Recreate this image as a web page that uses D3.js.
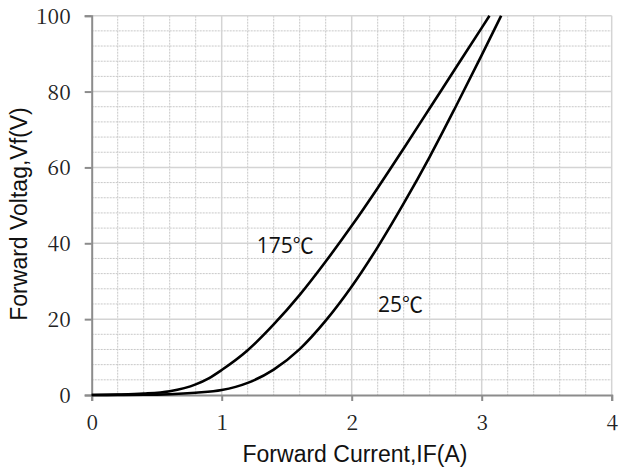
<!DOCTYPE html>
<html><head><meta charset="utf-8">
<script src="https://cdn.jsdelivr.net/npm/d3@7"></script>
<style>body{margin:0;background:#fff} .tk text{font-family:"Noto Serif CJK SC","Noto Serif CJK JP","Noto Serif","FreeSerif","DejaVu Serif","Liberation Serif",serif !important;}</style>
</head><body>
<svg id="c" width="619" height="472"></svg>
<script>
const xTicks = [0, 1, 2, 3, 4];
const yTicks = [0, 20, 40, 60, 80, 100];
const hotX = [0, 0.2, 0.4, 0.6, 0.8, 0.9, 1.0, 1.2, 1.4, 1.6, 1.8, 2.0, 2.2, 2.4, 2.6, 2.8, 3.0, 3.06];
const hotY = [0, 0.1, 0.35, 1.0, 2.8, 4.4, 6.6, 11.8, 18.6, 26.4, 35.2, 44.6, 54.6, 65.0, 75.6, 86.2, 96.8, 100];
const roomX = [0, 0.4, 0.6, 0.8, 1.0, 1.2, 1.4, 1.6, 1.8, 2.0, 2.2, 2.4, 2.6, 2.8, 3.0, 3.15];
const roomY = [0, 0.05, 0.2, 0.6, 1.3, 3.2, 6.7, 12.1, 19.6, 28.6, 39.0, 50.5, 62.8, 76.0, 89.6, 100];
const seriesLabels = ["175℃", "25℃"];
const xTitle = "Forward Current,IF(A)";
const yTitle = "Forward Voltag,Vf(V)";

const svg = d3.select("#c");
const L = 91.7, R = 611.7, T = 15.7, B = 395;
const x = d3.scaleLinear().domain([0, 4]).range([L, R]);
const y = d3.scaleLinear().domain([0, 100]).range([B, T]);

const g = svg.append("g");
const minorX = d3.range(0, 4.0001, 0.2).filter(v => Math.abs(v - Math.round(v)) > 1e-6);
const minorY = d3.range(0, 100.001, 4).filter(v => v % 20 !== 0);
g.selectAll(".mx").data(minorX).join("line")
  .attr("x1", d => x(d)).attr("x2", d => x(d)).attr("y1", T).attr("y2", B)
  .attr("stroke", "#c8c8c8").attr("stroke-width", 1).attr("stroke-dasharray", "2,1");
g.selectAll(".my").data(minorY).join("line")
  .attr("y1", d => y(d)).attr("y2", d => y(d)).attr("x1", L).attr("x2", R)
  .attr("stroke", "#c8c8c8").attr("stroke-width", 1).attr("stroke-dasharray", "2,1");
g.selectAll(".Mx").data(xTicks.slice(1)).join("line")
  .attr("x1", d => x(d)).attr("x2", d => x(d)).attr("y1", T).attr("y2", B)
  .attr("stroke", "#d4d4d4").attr("stroke-width", 1.5);
g.selectAll(".My").data(yTicks.slice(1)).join("line")
  .attr("y1", d => y(d)).attr("y2", d => y(d)).attr("x1", L).attr("x2", R)
  .attr("stroke", "#d4d4d4").attr("stroke-width", 1.5);

const xa = svg.append("g").attr("class", "tk").attr("transform", `translate(0,${B})`)
  .call(d3.axisBottom(x).tickValues(xTicks).tickSize(6).tickPadding(14).tickFormat(d3.format("d")));
const ya = svg.append("g").attr("class", "tk").attr("transform", `translate(${L},0)`)
  .call(d3.axisLeft(y).tickValues(yTicks).tickSize(7).tickPadding(14).tickFormat(d3.format("d")));
[xa, ya].forEach(a => {
  a.attr("font-family", null).attr("font-size", 21);
  a.select(".domain").attr("stroke", "#8c8c8c").attr("stroke-width", 2);
  a.selectAll(".tick line").attr("stroke", "#8c8c8c").attr("stroke-width", 2);
  a.selectAll("text").attr("font-size", 21).attr("fill", "#222");
});
ya.selectAll("text").attr("dy", "0.36em");

const line = d3.line().x(d => x(d[0])).y(d => y(d[1])).curve(d3.curveMonotoneX);
const hot = hotX.map((v, i) => [v, hotY[i]]);
const room = roomX.map((v, i) => [v, roomY[i]]);
[hot, room].forEach(s => svg.append("path").datum(s).attr("d", line)
  .attr("fill", "none").attr("stroke", "#000").attr("stroke-width", 2.6));

const lf = "'Open Sans', 'Noto Sans CJK SC', sans-serif";
svg.append("text").attr("x", 256.7).attr("y", 252.7).text(seriesLabels[0])
  .style("font-family", lf).style("font-size", "21px").attr("fill", "#111");
svg.append("text").attr("x", 378).attr("y", 311.7).text(seriesLabels[1])
  .style("font-family", lf).style("font-size", "21px").attr("fill", "#111");

const tf = "'Liberation Sans', Arial, sans-serif";
svg.append("text").attr("x", 355).attr("y", 462).attr("text-anchor", "middle").text(xTitle)
  .style("font-family", tf).style("font-size", "23px").attr("fill", "#111");
svg.append("text").attr("transform", "translate(27,214) rotate(-90)").attr("text-anchor", "middle").text(yTitle)
  .style("font-family", tf).style("font-size", "23px").attr("fill", "#111");
</script>
</body></html>
